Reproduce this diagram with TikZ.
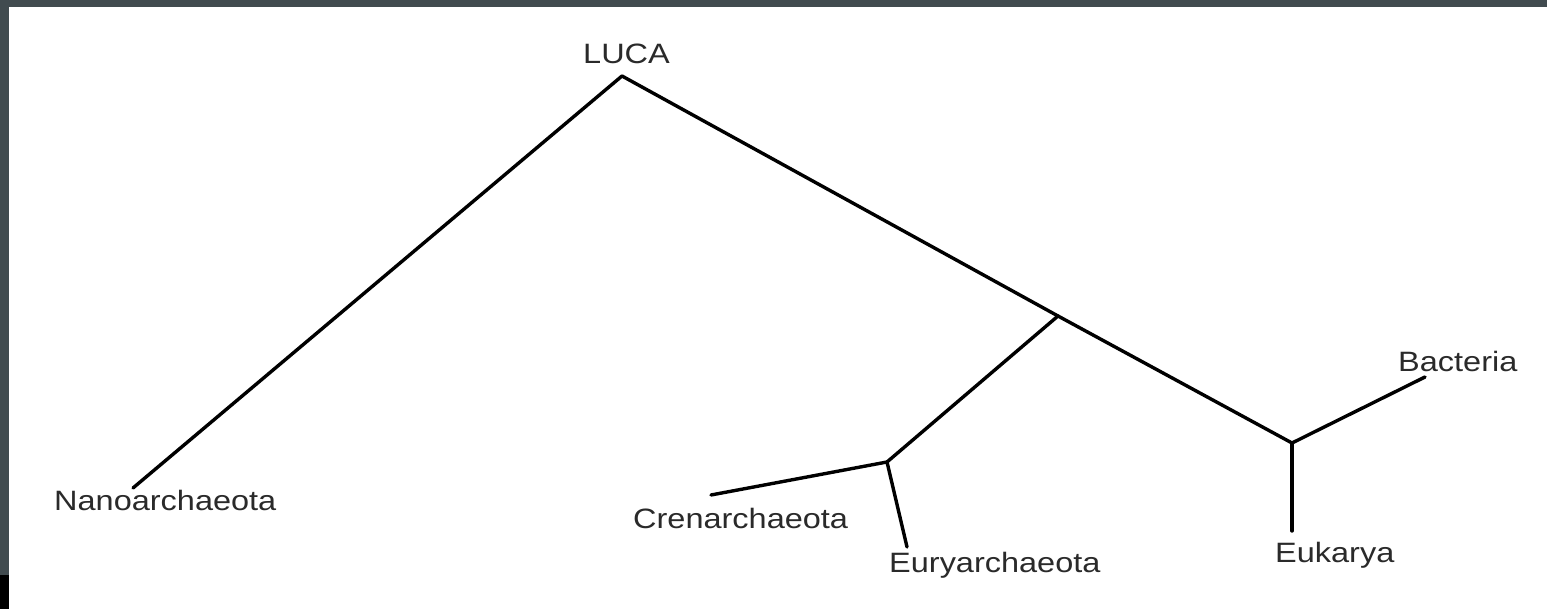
\documentclass[tikz,border=0pt]{standalone}
\usepackage{fontspec}
\setmainfont{Liberation Sans}[FakeStretch=1.16]
\usetikzlibrary{positioning}
\definecolor{frame}{HTML}{414B4F}
\definecolor{txt}{HTML}{2A2A2A}
\begin{document}
\begin{tikzpicture}[x=1pt,y=-1pt]

\tikzset{taxon/.style = {anchor=base west, inner sep=0pt, text=txt, font=\fontsize{28}{32}\selectfont}}
\tikzset{branch/.style = {line width=3.4pt, black, line cap=round, line join=round}}
\useasboundingbox (0,0) rectangle (1547,609);
% frame
\fill[frame] (0,0) rectangle (1547,609);
\fill[white] (9,7) rectangle (1547,609);
\fill[black] (0,575) rectangle (9,609);
% vertices
\coordinate (root) at (622,76);
\coordinate (arch) at (1058,316);
\coordinate (cren) at (887,462);
\coordinate (euba) at (1292,443);
\coordinate (nanoend) at (133,488);
\coordinate (crenend) at (711,495);
\coordinate (euryend) at (907,547);
\coordinate (eukend) at (1292,531);
\coordinate (bacend) at (1425,377);
% labels
\node[taxon] (luca) at (583,64) {LUCA};
\node[taxon] (nano) at (54,510) {Nanoarchaeota};
\node[taxon] (crena) at (633,528) {Crenarchaeota};
\node[taxon] (eurya) at (889,572) {Euryarchaeota};
\node[taxon] (euk) at (1275,562) {Eukarya};
\node[taxon] (bac) at (1398,372) {Bacteria};
%edges
\path[branch] (root) edge (nanoend);
\path[branch] (root) edge (arch);
\path[branch] (arch) edge (euba);
\path[branch] (arch) edge (cren);
\path[branch] (cren) edge (crenend);
\path[branch] (cren) edge (euryend);
\path[branch] (euba) edge (eukend);
\path[branch] (euba) edge (bacend);
\end{tikzpicture}
\end{document}
